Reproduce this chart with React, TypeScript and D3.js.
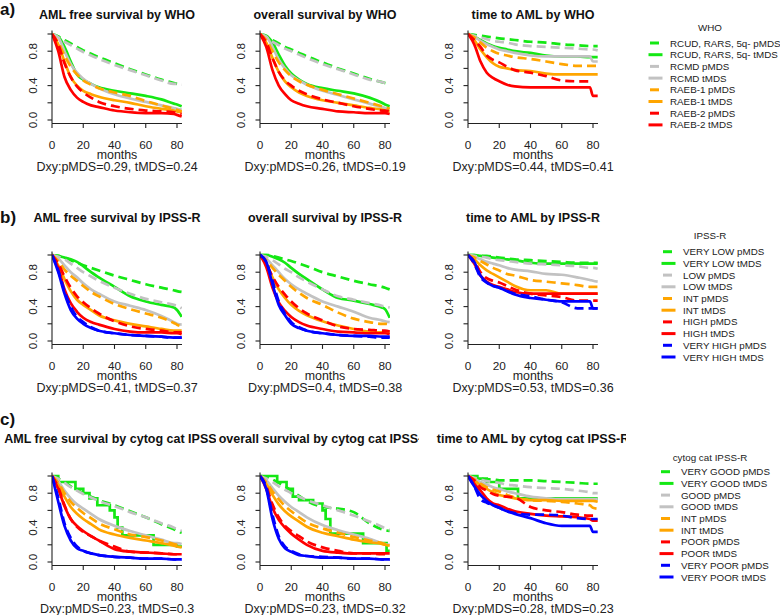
import React from "react";
import * as d3 from "d3";

// follow-up grid (months) shared by most curves
const months = [0, 4, 8, 12, 16, 20, 25, 30, 40, 50, 60, 70, 78, 80, 83];
const yTicks = [0, 0.2, 0.4, 0.6, 0.8, 1.0];
const yLabels = [0, 0.4, 0.8];
const xTicks = [0, 20, 40, 60, 80];

const whoGroups = ["RCUD, RARS, 5q-", "RCMD", "RAEB-1", "RAEB-2"];
const ipssGroups = ["VERY LOW", "LOW", "INT", "HIGH", "VERY HIGH"];
const cytoGroups = ["VERY GOOD", "GOOD", "INT", "POOR", "VERY POOR"];
const groupColors = ["#14e814", "#c2c2c2", "#ffa500", "#ff0000", "#0000ff"];

// a) WHO
const whoAmlP = [
  [1, 0.97, 0.93, 0.89, 0.85, 0.81, 0.77, 0.73, 0.66, 0.59, 0.53, 0.47, 0.43, 0.42, 0.41],
  [1, 0.96, 0.91, 0.87, 0.83, 0.79, 0.75, 0.71, 0.64, 0.58, 0.52, 0.46, 0.42, 0.42, 0.41],
  [1, 0.9, 0.75, 0.62, 0.53, 0.46, 0.41, 0.37, 0.32, 0.28, 0.22, 0.17, 0.13, 0.12, 0.1],
  [1, 0.88, 0.66, 0.5, 0.39, 0.32, 0.26, 0.21, 0.16, 0.13, 0.11, 0.1, 0.09, 0.08, 0.07],
];
const whoAmlT = [
  [1, 0.97, 0.85, 0.68, 0.53, 0.47, 0.42, 0.38, 0.34, 0.31, 0.28, 0.24, 0.19, 0.18, 0.16],
  [1, 0.96, 0.8, 0.65, 0.55, 0.48, 0.42, 0.37, 0.3, 0.25, 0.21, 0.17, 0.14, 0.13, 0.12],
  [1, 0.88, 0.68, 0.5, 0.4, 0.34, 0.3, 0.27, 0.23, 0.2, 0.16, 0.13, 0.11, 0.1, 0.09],
  [1, 0.8, 0.5, 0.35, 0.26, 0.21, 0.17, 0.15, 0.11, 0.09, 0.08, 0.08, 0.07, 0.06, 0.04],
];
const whoOsP = [
  [1, 0.97, 0.93, 0.89, 0.85, 0.82, 0.78, 0.74, 0.67, 0.6, 0.54, 0.48, 0.44, 0.43, 0.42],
  [1, 0.96, 0.91, 0.87, 0.83, 0.8, 0.76, 0.72, 0.65, 0.59, 0.53, 0.47, 0.44, 0.43, 0.41],
  [1, 0.93, 0.8, 0.67, 0.58, 0.51, 0.45, 0.41, 0.35, 0.3, 0.25, 0.2, 0.16, 0.15, 0.13],
  [1, 0.9, 0.72, 0.56, 0.46, 0.4, 0.34, 0.3, 0.24, 0.2, 0.16, 0.13, 0.11, 0.11, 0.1],
];
const whoOsT = [
  [1, 0.98, 0.9, 0.76, 0.63, 0.54, 0.47, 0.42, 0.37, 0.34, 0.31, 0.26, 0.2, 0.18, 0.16],
  [1, 0.97, 0.85, 0.7, 0.6, 0.52, 0.46, 0.41, 0.34, 0.29, 0.24, 0.19, 0.15, 0.14, 0.13],
  [1, 0.9, 0.72, 0.56, 0.45, 0.38, 0.32, 0.28, 0.23, 0.2, 0.17, 0.14, 0.12, 0.11, 0.1],
  [1, 0.85, 0.58, 0.4, 0.3, 0.23, 0.19, 0.16, 0.13, 0.1, 0.09, 0.08, 0.08, 0.08, 0.07],
];
const whoTtaP = [
  [1, 0.99, 0.98, 0.97, 0.96, 0.95, 0.94, 0.93, 0.91, 0.9, 0.88, 0.87, 0.86, 0.86, 0.86],
  [1, 0.98, 0.96, 0.94, 0.92, 0.91, 0.9, 0.88, 0.86, 0.85, 0.84, 0.83, 0.82, 0.82, 0.81],
  [1, 0.96, 0.9, 0.84, 0.8, 0.77, 0.75, 0.73, 0.71, 0.68, 0.65, 0.63, 0.63, 0.63, 0.63],
  [1, 0.93, 0.85, 0.75, 0.7, 0.67, 0.62, 0.58, 0.55, 0.51, 0.46, 0.45, 0.45, null, null],
];
const whoTtaT = [
  [1, 0.97, 0.93, 0.89, 0.86, 0.84, 0.82, 0.8, 0.78, 0.75, 0.74, 0.74, 0.73, 0.73, 0.73],
  [1, 0.97, 0.92, 0.88, 0.85, 0.82, 0.8, 0.78, 0.75, 0.74, 0.74, 0.74, 0.74, 0.68, 0.68],
  [1, 0.93, 0.82, 0.73, 0.66, 0.62, 0.6, 0.58, 0.57, 0.54, 0.53, 0.53, 0.53, 0.53, 0.53],
  [1, 0.88, 0.68, 0.55, 0.49, 0.45, 0.41, 0.39, 0.38, 0.38, 0.38, 0.38, 0.38, 0.28, 0.28],
];

// b) IPSS-R
const ipssAmlP = [
  [1, 0.99, 0.97, 0.94, 0.91, 0.88, 0.85, 0.82, 0.76, 0.71, 0.66, 0.62, 0.59, 0.58, 0.57],
  [1, 0.98, 0.95, 0.9, 0.85, 0.8, 0.75, 0.7, 0.62, 0.55, 0.49, 0.45, 0.42, 0.41, 0.38],
  [1, 0.93, 0.83, 0.76, 0.7, 0.64, 0.57, 0.52, 0.43, 0.37, 0.32, 0.27, 0.21, 0.19, 0.17],
  [1, 0.9, 0.75, 0.62, 0.52, 0.45, 0.38, 0.32, 0.23, 0.17, 0.14, 0.12, 0.1, 0.1, 0.1],
  [1, 0.82, 0.58, 0.4, 0.28, 0.22, 0.16, 0.12, 0.09, 0.07, 0.06, 0.05, 0.04, 0.04, 0.04],
];
const ipssAmlT = [
  [1, 0.99, 0.97, 0.95, 0.92, 0.87, 0.8, 0.74, 0.63, 0.52, 0.46, 0.42, 0.39, 0.36, 0.28],
  [1, 0.96, 0.88, 0.8, 0.74, 0.67, 0.6, 0.55, 0.46, 0.41, 0.36, 0.29, 0.22, 0.2, 0.19],
  [1, 0.88, 0.72, 0.58, 0.48, 0.42, 0.36, 0.3, 0.24, 0.2, 0.17, 0.14, 0.12, 0.12, 0.12],
  [1, 0.85, 0.6, 0.44, 0.34, 0.27, 0.22, 0.19, 0.14, 0.11, 0.1, 0.1, 0.09, 0.09, 0.08],
  [1, 0.8, 0.55, 0.36, 0.26, 0.2, 0.15, 0.12, 0.09, 0.07, 0.06, 0.05, 0.04, 0.04, 0.04],
];
const ipssOsP = [
  [1, 1, 0.99, 0.97, 0.95, 0.93, 0.9, 0.87, 0.8, 0.75, 0.7, 0.66, 0.63, 0.62, 0.6],
  [1, 0.98, 0.94, 0.89, 0.84, 0.8, 0.74, 0.69, 0.6, 0.52, 0.48, 0.44, 0.41, 0.4, 0.39],
  [1, 0.94, 0.85, 0.77, 0.7, 0.63, 0.56, 0.5, 0.42, 0.33, 0.26, 0.22, 0.2, 0.2, 0.19],
  [1, 0.9, 0.75, 0.63, 0.54, 0.46, 0.38, 0.32, 0.24, 0.17, 0.14, 0.13, 0.12, 0.12, 0.11],
  [1, 0.92, 0.7, 0.46, 0.32, 0.22, 0.16, 0.12, 0.09, 0.07, 0.06, 0.05, 0.04, 0.04, 0.04],
];
const ipssOsT = [
  [1, 1, 0.98, 0.95, 0.91, 0.85, 0.78, 0.72, 0.6, 0.5, 0.47, 0.43, 0.39, 0.37, 0.27],
  [1, 0.96, 0.88, 0.8, 0.72, 0.66, 0.6, 0.55, 0.46, 0.4, 0.34, 0.27, 0.24, 0.23, 0.22],
  [1, 0.9, 0.74, 0.6, 0.5, 0.42, 0.35, 0.3, 0.23, 0.18, 0.14, 0.11, 0.1, 0.1, 0.1],
  [1, 0.86, 0.62, 0.45, 0.35, 0.28, 0.22, 0.18, 0.14, 0.11, 0.1, 0.09, 0.09, 0.09, 0.08],
  [1, 0.92, 0.66, 0.42, 0.3, 0.2, 0.15, 0.12, 0.09, 0.07, 0.06, 0.06, 0.05, 0.05, 0.05],
];
const ipssTtaP = [
  [1, 1, 0.99, 0.99, 0.98, 0.97, 0.96, 0.95, 0.94, 0.93, 0.92, 0.91, 0.91, 0.91, 0.91],
  [1, 0.99, 0.98, 0.97, 0.95, 0.94, 0.93, 0.92, 0.9, 0.89, 0.88, 0.87, 0.85, 0.85, 0.84],
  [1, 0.97, 0.93, 0.89, 0.85, 0.82, 0.78, 0.76, 0.71, 0.69, 0.67, 0.65, 0.63, 0.63, 0.63],
  [1, 0.93, 0.8, 0.73, 0.7, 0.68, 0.64, 0.6, 0.55, 0.53, 0.51, 0.47, 0.47, 0.47, 0.47],
  [1, 0.9, 0.74, 0.68, 0.64, 0.62, 0.58, 0.55, 0.52, 0.48, 0.45, 0.38, 0.38, 0.38, 0.38],
];
const ipssTtaT = [
  [1, 1, 0.99, 0.98, 0.97, 0.96, 0.95, 0.94, 0.91, 0.9, 0.9, 0.9, 0.9, 0.9, 0.9],
  [1, 0.98, 0.95, 0.92, 0.9, 0.88, 0.85, 0.83, 0.81, 0.78, 0.77, 0.74, 0.71, 0.7, 0.69],
  [1, 0.95, 0.88, 0.82, 0.78, 0.74, 0.69, 0.64, 0.59, 0.59, 0.55, 0.55, 0.55, 0.55, 0.55],
  [1, 0.9, 0.76, 0.69, 0.65, 0.63, 0.6, 0.57, 0.55, 0.55, 0.55, 0.55, 0.55, 0.55, 0.55],
  [1, 0.92, 0.76, 0.68, 0.64, 0.62, 0.58, 0.54, 0.5, 0.48, 0.46, 0.46, 0.46, 0.38, 0.38],
];

// c) cytogenetic category IPSS-R
const cytoAmlP = [
  [1, 0.97, 0.93, 0.88, 0.84, 0.8, 0.76, 0.72, 0.66, 0.59, 0.52, 0.44, 0.38, 0.36, 0.34],
  [1, 0.97, 0.92, 0.87, 0.83, 0.79, 0.75, 0.71, 0.65, 0.58, 0.52, 0.45, 0.4, 0.38, 0.36],
  [1, 0.92, 0.8, 0.7, 0.63, 0.57, 0.51, 0.45, 0.38, 0.32, 0.29, 0.25, 0.21, 0.2, 0.19],
  [1, 0.87, 0.66, 0.5, 0.41, 0.35, 0.3, 0.25, 0.18, 0.12, 0.11, 0.1, 0.09, 0.09, 0.09],
  [1, 0.75, 0.45, 0.28, 0.18, 0.13, 0.1, 0.08, 0.06, 0.05, 0.04, 0.04, 0.03, 0.03, 0.03],
];
const cytoAmlT = [
  null,
  [1, 0.94, 0.83, 0.74, 0.67, 0.62, 0.56, 0.5, 0.42, 0.36, 0.31, 0.26, 0.22, 0.22, 0.21],
  [1, 0.9, 0.76, 0.64, 0.56, 0.5, 0.44, 0.38, 0.32, 0.28, 0.25, 0.22, 0.19, 0.18, 0.17],
  [1, 0.85, 0.65, 0.5, 0.42, 0.36, 0.3, 0.25, 0.15, 0.12, 0.11, 0.1, 0.09, 0.09, 0.09],
  [1, 0.7, 0.42, 0.25, 0.16, 0.13, 0.1, 0.08, 0.06, 0.05, 0.04, 0.04, 0.03, 0.03, 0.03],
];
const cytoOsP = [
  [1, 0.99, 0.96, 0.92, 0.88, 0.83, 0.77, 0.71, 0.64, 0.62, 0.58, 0.45, 0.38, 0.37, 0.36],
  [1, 0.97, 0.93, 0.88, 0.84, 0.8, 0.76, 0.72, 0.66, 0.6, 0.54, 0.47, 0.41, 0.39, 0.37],
  [1, 0.93, 0.82, 0.73, 0.65, 0.59, 0.52, 0.46, 0.39, 0.34, 0.29, 0.25, 0.22, 0.21, 0.2],
  [1, 0.88, 0.67, 0.52, 0.42, 0.36, 0.3, 0.24, 0.17, 0.13, 0.1, 0.1, 0.09, 0.09, 0.09],
  [1, 0.87, 0.55, 0.3, 0.18, 0.13, 0.09, 0.07, 0.06, 0.05, 0.04, 0.04, 0.03, 0.03, 0.03],
];
const cytoOsT = [
  null,
  [1, 0.95, 0.86, 0.77, 0.7, 0.64, 0.58, 0.52, 0.43, 0.37, 0.32, 0.27, 0.22, 0.21, 0.2],
  [1, 0.91, 0.78, 0.67, 0.59, 0.53, 0.47, 0.41, 0.34, 0.3, 0.26, 0.23, 0.21, 0.2, 0.19],
  [1, 0.85, 0.63, 0.49, 0.4, 0.33, 0.26, 0.2, 0.13, 0.11, 0.1, 0.1, 0.1, 0.1, 0.1],
  [1, 0.85, 0.5, 0.27, 0.16, 0.12, 0.08, 0.07, 0.05, 0.05, 0.04, 0.04, 0.03, 0.03, 0.03],
];
const cytoTtaP = [
  [1, 0.99, 0.97, 0.96, 0.96, 0.95, 0.95, 0.95, 0.95, 0.94, 0.93, 0.92, 0.91, 0.91, 0.91],
  [1, 0.98, 0.96, 0.94, 0.93, 0.92, 0.9, 0.89, 0.87, 0.86, 0.85, 0.83, 0.81, 0.8, 0.8],
  [1, 0.96, 0.91, 0.87, 0.84, 0.82, 0.78, 0.75, 0.72, 0.71, 0.7, 0.68, 0.66, 0.63, 0.62],
  [1, 0.95, 0.87, 0.83, 0.79, 0.77, 0.76, 0.75, 0.64, 0.6, 0.58, 0.55, 0.54, 0.54, 0.54],
  [1, 0.88, 0.73, 0.69, 0.66, 0.63, 0.59, 0.57, 0.55, 0.55, 0.54, 0.51, 0.5, 0.5, 0.5],
];
const cytoTtaT = [
  null,
  [1, 0.97, 0.93, 0.9, 0.87, 0.85, 0.82, 0.8, 0.76, 0.74, 0.73, 0.73, 0.73, 0.73, 0.73],
  [1, 0.95, 0.89, 0.85, 0.81, 0.78, 0.76, 0.74, 0.72, 0.72, 0.71, 0.71, 0.71, 0.71, 0.7],
  [1, 0.91, 0.83, 0.74, 0.68, 0.66, 0.62, 0.59, 0.56, 0.54, 0.53, 0.52, 0.5, 0.48, 0.48],
  [1, 0.88, 0.78, 0.71, 0.66, 0.63, 0.59, 0.56, 0.51, 0.45, 0.42, 0.42, 0.42, 0.35, 0.35],
];

// small VERY GOOD tMDS group: few events, visible steps
const cytoAmlVgMonths = [0, 4, 15, 20, 24, 29, 37, 40, 42, 45, 65, 80, 83];
const cytoAmlVgSurv = [1, 0.93, 0.85, 0.8, 0.74, 0.66, 0.6, 0.52, 0.4, 0.31, 0.2, 0.18, 0.17];
const cytoOsVgMonths = [0, 11, 17, 21, 25, 34, 40, 42, 45, 66, 81, 83];
const cytoOsVgSurv = [1, 0.93, 0.85, 0.76, 0.72, 0.68, 0.6, 0.5, 0.33, 0.22, 0.13, 0.13];
const cytoTtaVgMonths = [0, 6, 12, 20, 32, 83];
const cytoTtaVgSurv = [1, 0.97, 0.93, 0.85, 0.74, 0.74];

const plots = [
  { row: 0, col: 0, title: "AML free survival by WHO", dxy: "Dxy:pMDS=0.29, tMDS=0.24", p: whoAmlP, t: whoAmlT },
  { row: 0, col: 1, title: "overall survival by WHO", dxy: "Dxy:pMDS=0.26, tMDS=0.19", p: whoOsP, t: whoOsT },
  { row: 0, col: 2, title: "time to AML by WHO", dxy: "Dxy:pMDS=0.44, tMDS=0.41", p: whoTtaP, t: whoTtaT },
  { row: 1, col: 0, title: "AML free survival by IPSS-R", dxy: "Dxy:pMDS=0.41, tMDS=0.37", p: ipssAmlP, t: ipssAmlT },
  { row: 1, col: 1, title: "overall survival by IPSS-R", dxy: "Dxy:pMDS=0.4, tMDS=0.38", p: ipssOsP, t: ipssOsT },
  { row: 1, col: 2, title: "time to AML by IPSS-R", dxy: "Dxy:pMDS=0.53, tMDS=0.36", p: ipssTtaP, t: ipssTtaT },
  { row: 2, col: 0, title: "AML free survival by cytog cat IPSS-R", dxy: "Dxy:pMDS=0.23, tMDS=0.3", p: cytoAmlP, t: cytoAmlT, vg: [cytoAmlVgMonths, cytoAmlVgSurv] },
  { row: 2, col: 1, title: "overall survival by cytog cat IPSS-R", dxy: "Dxy:pMDS=0.23, tMDS=0.32", p: cytoOsP, t: cytoOsT, vg: [cytoOsVgMonths, cytoOsVgSurv] },
  { row: 2, col: 2, title: "time to AML by cytog cat IPSS-R", dxy: "Dxy:pMDS=0.28, tMDS=0.23", p: cytoTtaP, t: cytoTtaT, vg: [cytoTtaVgMonths, cytoTtaVgSurv] },
];

const legends = [
  { title: "WHO", groups: whoGroups, textX: 670, titleY: 27, firstY: 43 },
  { title: "IPSS-R", groups: ipssGroups, textX: 683, titleY: 235, firstY: 251.7 },
  { title: "cytog cat IPSS-R", groups: cytoGroups, textX: 681, titleY: 457, firstY: 471.7 },
];

const FONT = "'Liberation Sans', Arial, Helvetica, sans-serif";
const W = 780, H = 615;
const colX = [52, 260, 468];
const plotW = 130;
const rowTop = [34, 255, 476]; // y of survival 1.0
const unitH = 86;
const titleGap = [19, 37, 37];
const panelLabels = ["a)", "b)", "c)"];
const panelLabelY = [9, 217, 419];
const titleClip = [[0, 216], [216, 419], [419, 626]];
const DASH = "9,5";
const LW = 2.7;

function Plot({ cfg, idx }: { cfg: any; idx: number }) {
  const x0 = colX[cfg.col];
  const top = rowTop[cfg.row];
  const x = d3.scaleLinear().domain([0, 83.2]).range([x0, x0 + plotW]);
  const y = d3.scaleLinear().domain([-0.04, 1.04]).range([top + unitH * 1.04, top - unitH * 0.04]);
  const bottom = y(-0.04);
  const plotTop = y(1.04);

  const smooth = d3
    .line<[number, number | null]>()
    .defined((d) => d[1] != null)
    .x((d) => x(d[0]))
    .y((d) => y(d[1] as number))
    .curve(d3.curveMonotoneX);
  const stepped = d3
    .line<[number, number]>()
    .x((d) => x(d[0]))
    .y((d) => y(d[1]))
    .curve(d3.curveStepAfter);

  const paths: JSX.Element[] = [];
  cfg.p.forEach((_: any, g: number) => {
    const pVals = cfg.p[g];
    paths.push(
      <path key={`p${g}`} d={smooth(months.map((m, i) => [m, pVals[i]])) || ""} fill="none"
        stroke={groupColors[g]} strokeWidth={LW} strokeDasharray={DASH} />
    );
    const tVals = cfg.t[g];
    const d = tVals
      ? smooth(months.map((m, i) => [m, tVals[i]]))
      : stepped(cfg.vg[0].map((m: number, i: number) => [m, cfg.vg[1][i]]));
    paths.push(
      <path key={`t${g}`} d={d || ""} fill="none" stroke={groupColors[g]} strokeWidth={LW} />
    );
  });

  const cx = x0 + plotW / 2;
  const clip = titleClip[cfg.col];
  const titleY = top - titleGap[cfg.row];
  return (
    <g>
      <defs>
        <clipPath id={`pc${idx}`}>
          <rect x={x0} y={plotTop - 2} width={plotW} height={bottom - plotTop + 2} />
        </clipPath>
        <clipPath id={`tc${idx}`}>
          <rect x={clip[0]} y={titleY - 12} width={clip[1] - clip[0]} height={24} />
        </clipPath>
      </defs>
      <g clipPath={`url(#pc${idx})`}>{paths}</g>
      <line x1={x0} x2={x0} y1={plotTop} y2={bottom} stroke="#222" strokeWidth={1.1} />
      <line x1={x0} x2={x0 + plotW} y1={bottom} y2={bottom} stroke="#222" strokeWidth={1.1} />
      {yTicks.map((v) => (
        <line key={`yt${v}`} x1={x0 - 4.5} x2={x0} y1={y(v)} y2={y(v)} stroke="#222" strokeWidth={1.1} />
      ))}
      {yLabels.map((v) => (
        <text key={`yl${v}`} transform={`translate(${x0 - 19},${y(v)}) rotate(-90)`} textAnchor="middle"
          dominantBaseline="central" fontSize={11.8} fill="#222">{v.toFixed(1)}</text>
      ))}
      {xTicks.map((v) => (
        <g key={`xt${v}`}>
          <line x1={x(v)} x2={x(v)} y1={bottom} y2={bottom + 4.5} stroke="#222" strokeWidth={1.1} />
          <text x={x(v)} y={bottom + 25.5} textAnchor="middle" fontSize={11.8} fill="#222">{v}</text>
        </g>
      ))}
      <text x={cx} y={bottom + 35.5} textAnchor="middle" fontSize={12.4} fill="#222">months</text>
      <text x={cx} y={bottom + 48} textAnchor="middle" fontSize={12.5} fill="#222">{cfg.dxy}</text>
      <g clipPath={`url(#tc${idx})`}>
        <text x={cx} y={titleY} textAnchor="middle" dominantBaseline="central"
          fontSize={12.5} fontWeight="bold" fill="#111">{cfg.title}</text>
      </g>
    </g>
  );
}

function Legend({ cfg }: { cfg: any }) {
  const rows: JSX.Element[] = [];
  const step = 11.7;
  cfg.groups.forEach((g: string, gi: number) => {
    ["pMDS", "tMDS"].forEach((kind, k) => {
      const yy = cfg.firstY + (gi * 2 + k) * step;
      rows.push(
        <g key={`${gi}${kind}`}>
          {k === 0 ? (
            <line x1={cfg.textX - 20} x2={cfg.textX - 11} y1={yy} y2={yy} stroke={groupColors[gi]} strokeWidth={3} />
          ) : (
            <line x1={cfg.textX - 21.5} x2={cfg.textX - 7.5} y1={yy} y2={yy} stroke={groupColors[gi]} strokeWidth={3} />
          )}
          <text x={cfg.textX} y={yy} dominantBaseline="central" fontSize={9.8} fill="#222">{`${g} ${kind}`}</text>
        </g>
      );
    });
  });
  return (
    <g>
      <text x={710} y={cfg.titleY} textAnchor="middle" dominantBaseline="central" fontSize={9.8} fill="#222">{cfg.title}</text>
      {rows}
    </g>
  );
}

export default function App() {
  return (
    <div style={{ position: "absolute", left: 0, top: 0 }}>
      <svg width={W} height={H} style={{ display: "block", fontFamily: FONT, background: "#fff" }}>
        <rect width={W} height={H} fill="#fff" />
        {plots.map((p, i) => (
          <Plot key={i} cfg={p} idx={i} />
        ))}
        {legends.map((l, i) => (
          <Legend key={i} cfg={l} />
        ))}
        {panelLabels.map((l, i) => (
          <text key={l} x={0} y={panelLabelY[i]} dominantBaseline="central" fontSize={17} fontWeight="bold" fill="#111">{l}</text>
        ))}
      </svg>
    </div>
  );
}
